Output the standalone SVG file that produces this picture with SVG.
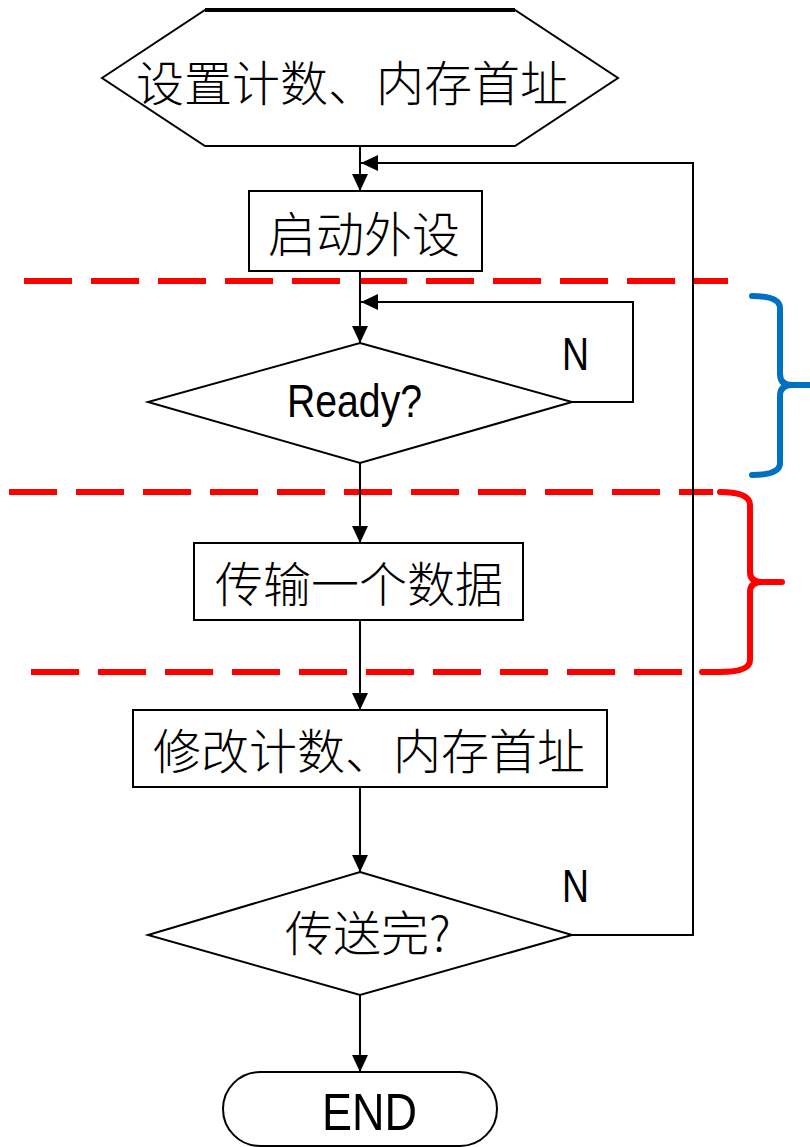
<svg xmlns="http://www.w3.org/2000/svg" width="810" height="1147" viewBox="0 0 810 1147">
<defs>
<marker id="arr" markerUnits="userSpaceOnUse" markerWidth="18" markerHeight="16" viewBox="0 0 17 16" refX="17" refY="8" orient="auto">
<path d="M0,0 L17,8 L0,16 z" fill="#000"/>
</marker>
</defs>
<style>
.shape{fill:#fff;stroke:#000;stroke-width:2}
.cjk{font-family:"Noto Sans CJK SC","Noto Sans CJK JP",sans-serif;font-size:48px;fill:#000;font-weight:300}
.lat{font-family:"Liberation Sans",Arial,sans-serif;fill:#000}
.conn{fill:none;stroke:#000;stroke-width:2}
.dash{fill:none;stroke:#ff0000;stroke-width:6;stroke-dasharray:48 19}
.redb{fill:none;stroke:#ff0000;stroke-width:6;stroke-linecap:round;stroke-linejoin:round}
.blueb{fill:none;stroke:#0070c0;stroke-width:6;stroke-linecap:round;stroke-linejoin:round}
</style>
<rect x="0" y="0" width="810" height="1147" fill="#fff"/>

<g id="annotations">
<line class="dash" x1="24" y1="281" x2="728" y2="281"/>
<line class="dash" x1="9" y1="492" x2="713" y2="492"/>
<line class="dash" x1="31" y1="672" x2="690" y2="672"/>
<path class="redb" d="M720,492 Q750,492 750,505 L750,572 Q750,582 762,582 L782,582 M762,582 Q750,582 750,592 L750,660 Q750,672 720,672 L702,672"/>
<path class="blueb" d="M752,296 Q780,296 780,308 L780,374 Q780,385 792,385 L810,385 M792,385 Q780,385 780,396 L780,463 Q780,475 752,475"/>
</g>

<g id="connectors">
<line class="conn" x1="360" y1="146" x2="360" y2="191" marker-end="url(#arr)"/>
<line class="conn" x1="360" y1="271" x2="360" y2="343" marker-end="url(#arr)"/>
<line class="conn" x1="360" y1="463" x2="360" y2="543" marker-end="url(#arr)"/>
<line class="conn" x1="360" y1="620" x2="360" y2="710" marker-end="url(#arr)"/>
<line class="conn" x1="360" y1="787" x2="360" y2="872" marker-end="url(#arr)"/>
<line class="conn" x1="360" y1="995" x2="360" y2="1072" marker-end="url(#arr)"/>
<polyline class="conn" points="572,402 633,402 633,302 361,302" marker-end="url(#arr)"/>
<polyline class="conn" points="572,935 693,935 693,163 361,163" marker-end="url(#arr)"/>
</g>

<g id="n-start">
<polygon class="shape" points="102,78 205,10 515,10 618,78 515,146 205,146"/>
<line x1="205" y1="10" x2="515" y2="10" stroke="#000" stroke-width="4"/>
<text class="cjk" x="136" y="101">设置计数、内存首址</text>
</g>

<g id="n-start-dev">
<rect class="shape" x="249" y="191" width="233" height="80"/>
<text class="cjk" x="268" y="252">启动外设</text>
</g>

<g id="n-ready">
<polygon class="shape" points="360,343 572,402 360,463 148,402"/>
<text class="lat" x="287" y="417" font-size="47" textLength="135" lengthAdjust="spacingAndGlyphs">Ready?</text>
<text class="lat" x="562" y="370" font-size="46" textLength="27" lengthAdjust="spacingAndGlyphs">N</text>
</g>

<g id="n-transfer">
<rect class="shape" x="194" y="543" width="329" height="77"/>
<text class="cjk" x="215" y="602">传输一个数据</text>
</g>

<g id="n-modify">
<rect class="shape" x="133" y="710" width="474" height="77"/>
<text class="cjk" x="153" y="769">修改计数、内存首址</text>
</g>

<g id="n-done">
<polygon class="shape" points="360,872 572,935 360,995 148,935"/>
<text class="cjk" x="285" y="951">传送完?</text>
<text class="lat" x="562" y="902" font-size="46" textLength="27" lengthAdjust="spacingAndGlyphs">N</text>
</g>

<g id="n-end">
<rect class="shape" x="223" y="1072" width="274" height="74" rx="37" ry="37"/>
<text class="lat" x="322" y="1130" font-size="52" textLength="95" lengthAdjust="spacingAndGlyphs">END</text>
</g>
</svg>
